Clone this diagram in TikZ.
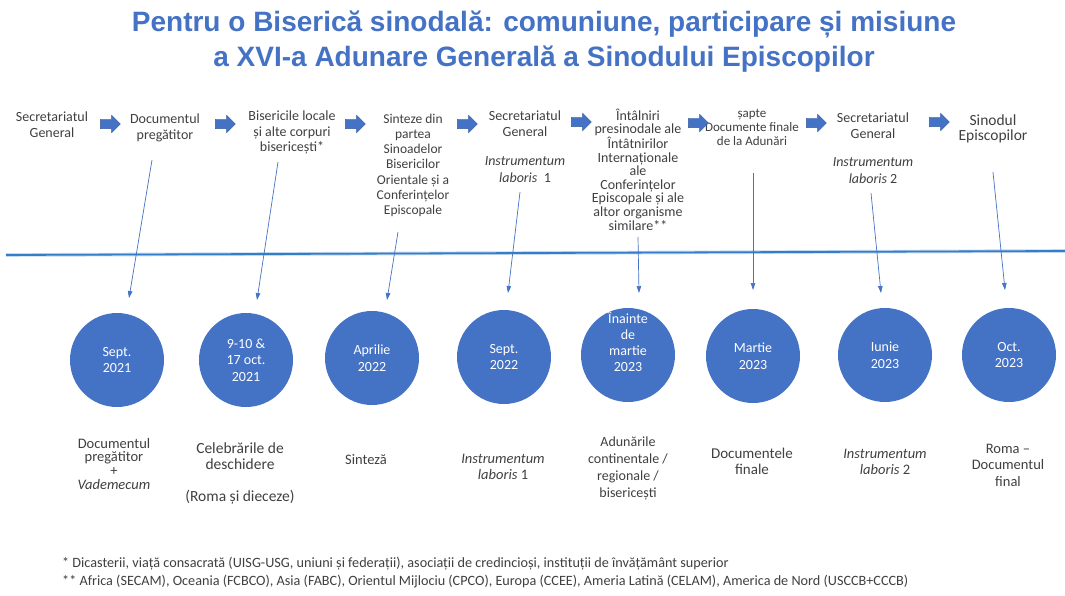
\documentclass[tikz,border=0pt]{standalone}
\usepackage{fontspec}
\setmainfont{Carlito}
\newfontfamily\titlefont{Liberation Sans}
\usetikzlibrary{shapes.arrows,arrows.meta}
\definecolor{sinblue}{RGB}{68,114,196}
\definecolor{linblue}{RGB}{52,125,200}
\definecolor{txtgray}{RGB}{64,64,64}

\begin{document}
\begin{tikzpicture}[x=1pt,y=-1pt,
  titletxt/.style={align=center, text=sinblue, font=\titlefont\bfseries\fontsize{28}{35}\selectfont},
  steptxt/.style={align=center, text=txtgray, inner sep=0pt, anchor=north, font=\fontsize{14}{15.3}\selectfont},
  blockarr/.style={single arrow, fill=sinblue, draw=sinblue!80!black, line width=0.4pt,
    inner xsep=0pt, inner ysep=4.5pt, minimum height=20pt, single arrow head extend=4pt},
  datecirc/.style={circle, fill=sinblue, minimum size=94pt, inner sep=0pt, text=white,
    align=center, font=\fontsize{14}{16.5}\selectfont},
  circtxt/.style={align=center, text=white, inner sep=0pt, font=\fontsize{14}{16}\selectfont},
  labtxt/.style={align=center, text=txtgray, inner sep=0pt, anchor=north, font=\fontsize{14.5}{16.3}\selectfont},
  notetxt/.style={anchor=west, text=txtgray, inner sep=0pt, font=\fontsize{14.2}{14}\selectfont},
  thinarr/.style={sinblue, line width=0.7pt, -{Triangle[length=7pt,width=4.5pt]}},
  tline/.style={linblue, line width=1.8pt}]

\useasboundingbox[fill=white] (0,0) rectangle (1065,596);

% title
\node[titletxt] (title) at (544,42) {Pentru o Biserică sinodală: comuniune, participare și misiune\\a XVI-a Adunare Generală a Sinodului Episcopilor};

% top row
\node[steptxt] (t1) at (52,112) {Secretariatul\\General};
\node[steptxt] (t2) at (165,114) {Documentul\\pregătitor};
\node[steptxt] (t3) at (292,111) {Bisericile locale\\și alte corpuri\\bisericești*};
\node[steptxt, font=\fontsize{13.5}{15.3}\selectfont] (t4) at (413,113.5) {Sinteze din\\partea\\Sinoadelor\\Bisericilor\\Orientale și a\\Conferințelor\\Episcopale};
\node[steptxt] (t5) at (525,111) {Secretariatul\\General\\[14pt]\textit{Instrumentum}\\[1.5pt]\textit{laboris}\ \ 1};
\node[steptxt, font=\fontsize{14}{13.6}\selectfont] (t6) at (638,108.5) {Întâlniri\\presinodale ale\\Întâtnirilor\\Internaționale\\ale\\Conferințelor\\Episcopale și ale\\altor organisme\\similare**};
\node[steptxt, font=\fontsize{13}{14}\selectfont] (t7) at (752,109) {șapte\\Documente finale\\de la Adunări};
\node[steptxt] (t8) at (873,113) {Secretariatul\\General\\[13pt]\textit{Instrumentum}\\[1.5pt]\textit{laboris} 2};
\node[steptxt, font=\fontsize{15.5}{15.5}\selectfont] (t9) at (993,114.5) {Sinodul\\Episcopilor};

\node[blockarr] (a1) at (108,124) {};
\node[blockarr] (a2) at (223,124) {};
\node[blockarr] (a3) at (353,124) {};
\node[blockarr] (a4) at (465,124) {};
\node[blockarr] (a5) at (579,122) {};
\node[blockarr] (a6) at (696,123) {};
\node[blockarr] (a7) at (814,123) {};
\node[blockarr] (a8) at (937,122) {};

% timeline
\coordinate (tl) at (6,255);
\coordinate (tr) at (1065,251);
\draw[tline, line width=3.6pt, linblue!30] (tl) -- (tr);
\draw[tline] (tl) -- (tr);

% dates
\node[datecirc] (c1) at (117,360) {Sept.\\2021};
\node[datecirc] (c2) at (246,360) {9-10 \&\\17 oct.\\2021};
\node[datecirc] (c3) at (372,358) {Aprilie\\2022};
\node[datecirc] (c4) at (504,357) {Sept.\\2022};
\node[datecirc] (c5) at (628,355) {};
\node[circtxt] (c5t) at (628,342) {Înainte\\de\\martie\\2023};
\node[datecirc] (c6) at (753,356) {Martie\\2023};
\node[datecirc] (c7) at (885,355) {Iunie\\2023};
\node[datecirc] (c8) at (1009,355) {Oct.\\2023};

% arrows down to the dates
\coordinate (s1) at (152,160);  \coordinate (e1) at (129,298);
\coordinate (s2) at (278,162);  \coordinate (e2) at (257,300);
\coordinate (s3) at (398,232);  \coordinate (e3) at (387,300);
\coordinate (s4) at (520,192);  \coordinate (e4) at (508,293);
\coordinate (s5) at (638,237);  \coordinate (e5) at (639,293);
\coordinate (s6) at (753,173);  \coordinate (e6) at (753,290);
\coordinate (s7) at (871,193);  \coordinate (e7) at (881,293);
\coordinate (s8) at (993,172);  \coordinate (e8) at (1005,290);
\foreach \i in {1,...,8}
  \draw[thinarr] (s\i) -- (e\i);

% bottom row
\node[labtxt, font=\fontsize{14.5}{13.7}\selectfont] (b1) at (114,438) {Documentul\\pregătitor\\+\\\textit{Vademecum}};
\node[labtxt, font=\fontsize{15.5}{15.5}\selectfont] (b2) at (240,443) {Celebrările de\\deschidere\\[17pt](Roma și dieceze)};
\node[labtxt] (b3) at (366,454) {Sinteză};
\node[labtxt] (b4) at (503,454) {\textit{Instrumentum}\\\textit{laboris} 1};
\node[labtxt, font=\fontsize{14}{16.7}\selectfont] (b5) at (628,437) {Adunările\\continentale /\\regionale /\\bisericești};
\node[labtxt, font=\fontsize{15}{16}\selectfont] (b6) at (752,448) {Documentele\\finale};
\node[labtxt] (b7) at (885,449) {\textit{Instrumentum}\\\textit{laboris} 2};
\node[labtxt] (b8) at (1008,444) {Roma –\\Documentul\\final};

% notes
\node[notetxt] (n1) at (62,564) {* Dicasterii, viață consacrată (UISG-USG, uniuni și federații), asociații de credincioși, instituții de învățământ superior};
\node[notetxt] (n2) at (62,582) {** Africa (SECAM), Oceania (FCBCO), Asia (FABC), Orientul Mijlociu (CPCO), Europa (CCEE), Ameria Latină (CELAM), America de Nord (USCCB+CCCB)};
\end{tikzpicture}
\end{document}
